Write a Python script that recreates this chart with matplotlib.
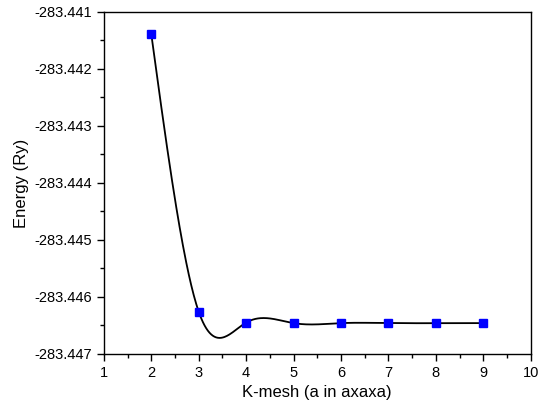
import numpy as np
import matplotlib.pyplot as plt
from matplotlib.ticker import MultipleLocator, FormatStrFormatter

plt.rcParams['font.family'] = ['Liberation Sans', 'DejaVu Sans']

kmesh = [2, 3, 4, 5, 6, 7, 8, 9]
energy = [-283.44139, -283.44626, -283.44645, -283.44646,
          -283.44646, -283.44646, -283.44646, -283.44646]


def natural_spline(x, y, xs):
    # natural cubic spline through the points
    x = np.asarray(x, dtype=float)
    y = np.asarray(y, dtype=float)
    n = len(x)
    h = np.diff(x)
    A = np.zeros((n, n))
    b = np.zeros(n)
    A[0, 0] = A[-1, -1] = 1
    for i in range(1, n - 1):
        A[i, i - 1] = h[i - 1]
        A[i, i] = 2 * (h[i - 1] + h[i])
        A[i, i + 1] = h[i]
        b[i] = 3 * ((y[i + 1] - y[i]) / h[i] - (y[i] - y[i - 1]) / h[i - 1])
    c = np.linalg.solve(A, b)
    out = np.zeros_like(xs)
    for k, xv in enumerate(xs):
        i = min(max(np.searchsorted(x, xv) - 1, 0), n - 2)
        bi = (y[i + 1] - y[i]) / h[i] - h[i] * (2 * c[i] + c[i + 1]) / 3
        di = (c[i + 1] - c[i]) / (3 * h[i])
        t = xv - x[i]
        out[k] = y[i] + bi * t + c[i] * t ** 2 + di * t ** 3
    return out


xs = np.linspace(kmesh[0], kmesh[-1], 400)
ys = natural_spline(kmesh, energy, xs)

fig = plt.figure(figsize=(5.41, 4.12), dpi=100)
ax = fig.add_axes([0.192, 0.141, 0.789, 0.83])
ax.plot(xs, ys, color='black', lw=1.3)
ax.plot(kmesh, energy, 's', color='#0000ff', ms=6, mec='#0000ff')

ax.set_xlim(1, 10)
ax.set_ylim(-283.447, -283.441)
ax.xaxis.set_major_locator(MultipleLocator(1))
ax.xaxis.set_minor_locator(MultipleLocator(0.5))
ax.yaxis.set_major_locator(MultipleLocator(0.001))
ax.yaxis.set_minor_locator(MultipleLocator(0.0005))
ax.yaxis.set_major_formatter(FormatStrFormatter('%.3f'))
ax.tick_params(which='major', length=5, width=1, labelsize=10.5)
ax.tick_params(which='minor', length=3, width=1)
for s in ax.spines.values():
    s.set_linewidth(1)

ax.set_xlabel('K-mesh (a in axaxa)', fontsize=12)
ax.set_ylabel('Energy (Ry)', fontsize=12)

fig.savefig('out.png', dpi=100)
